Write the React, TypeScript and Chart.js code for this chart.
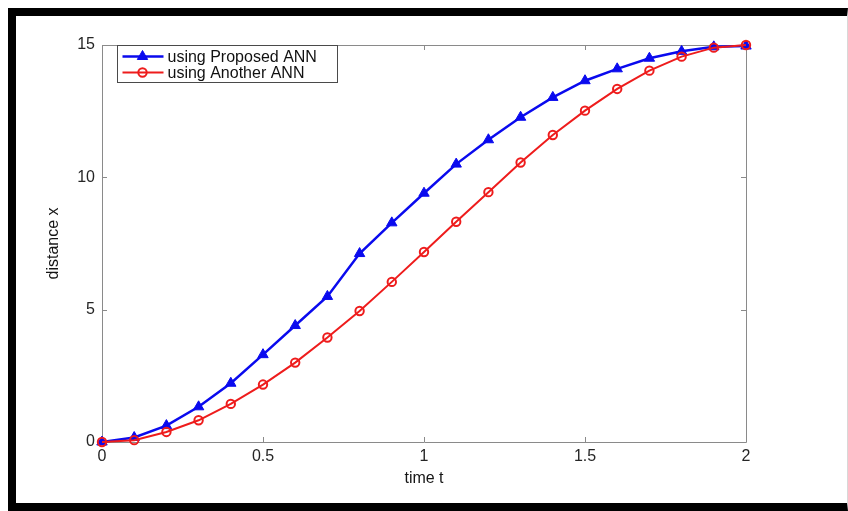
import React, { useEffect, useRef } from "react";
import { Chart, registerables } from "chart.js";

Chart.register(...registerables);

const timeT = [0, 0.1, 0.2, 0.3, 0.4, 0.5, 0.6, 0.7, 0.8, 0.9, 1.0, 1.1, 1.2, 1.3, 1.4, 1.5, 1.6, 1.7, 1.8, 1.9, 2.0];
const proposedANN = [0, 0.17, 0.62, 1.33, 2.22, 3.3, 4.4, 5.5, 7.12, 8.28, 9.4, 10.5, 11.42, 12.27, 13.02, 13.65, 14.1, 14.5, 14.76, 14.93, 14.96];
const anotherANN = [0, 0.07, 0.38, 0.82, 1.44, 2.17, 3.0, 3.95, 4.95, 6.05, 7.18, 8.32, 9.44, 10.56, 11.6, 12.52, 13.34, 14.03, 14.56, 14.9, 15.0];
const xTickValues = [0, 0.5, 1, 1.5, 2];
const yTickValues = [0, 5, 10, 15];
const seriesLabels = ["using Proposed ANN", "using Another ANN"];
const xTitle = "time t";
const yTitle = "distance x";

const BLUE = "#0a0aee";
const RED = "#ee1c1c";
const AXIS = "#8a8a8a";
const FONT = "'Liberation Sans', Arial, Helvetica, sans-serif";

const framePlugin = {
  id: "matlabFrame",
  beforeDatasetsDraw(chart: any) {
    const { ctx, chartArea } = chart;
    const xs = chart.scales.x;
    const ys = chart.scales.y;
    const { left, right, top, bottom } = chartArea;
    ctx.save();
    ctx.strokeStyle = AXIS;
    ctx.lineWidth = 1;
    ctx.beginPath();
    ctx.rect(Math.round(left) + 0.5, Math.round(top) + 0.5, Math.round(right - left), Math.round(bottom - top));
    ctx.stroke();
    const tl = 5;
    ctx.beginPath();
    xTickValues.forEach((v) => {
      const px = Math.round(xs.getPixelForValue(v)) + 0.5;
      ctx.moveTo(px, bottom);
      ctx.lineTo(px, bottom - tl);
      ctx.moveTo(px, top);
      ctx.lineTo(px, top + tl);
    });
    yTickValues.forEach((v) => {
      const py = Math.round(ys.getPixelForValue(v)) + 0.5;
      ctx.moveTo(left, py);
      ctx.lineTo(left + tl, py);
      ctx.moveTo(right, py);
      ctx.lineTo(right - tl, py);
    });
    ctx.stroke();
    ctx.restore();
  },
  afterDraw(chart: any) {
    const { ctx, chartArea } = chart;
    const bx = Math.round(chartArea.left) + 15.5;
    const by = Math.round(chartArea.top) + 0.5;
    const bw = 220;
    const bh = 37;
    ctx.save();
    ctx.fillStyle = "#ffffff";
    ctx.fillRect(bx, by, bw, bh);
    ctx.strokeStyle = "#4a4a4a";
    ctx.lineWidth = 1;
    ctx.strokeRect(bx, by, bw, bh);
    const rows = [by + 11, by + 27];
    chart.data.datasets.forEach((ds: any, i: number) => {
      const y = rows[i];
      ctx.strokeStyle = ds.borderColor;
      ctx.lineWidth = ds.borderWidth;
      ctx.beginPath();
      ctx.moveTo(bx + 5, y);
      ctx.lineTo(bx + 46, y);
      ctx.stroke();
      ctx.fillStyle = ds.pointBackgroundColor;
      ctx.strokeStyle = ds.pointBorderColor;
      ctx.lineWidth = ds.pointBorderWidth;
      ctx.beginPath();
      if (ds.pointStyle === "triangle") {
        const r = ds.pointRadius;
        ctx.moveTo(bx + 25, y - r);
        ctx.lineTo(bx + 25 + r * 0.866, y + r * 0.5);
        ctx.lineTo(bx + 25 - r * 0.866, y + r * 0.5);
        ctx.closePath();
        ctx.fill();
        ctx.stroke();
      } else {
        ctx.arc(bx + 25, y, ds.pointRadius, 0, Math.PI * 2);
        ctx.stroke();
      }
      ctx.fillStyle = "#111111";
      ctx.font = `16px ${FONT}`;
      ctx.textBaseline = "middle";
      ctx.textAlign = "left";
      ctx.fillText(ds.label, bx + 50, y + 1);
    });
    ctx.restore();
  },
};

export default function App() {
  const canvasRef = useRef<HTMLCanvasElement | null>(null);

  useEffect(() => {
    const canvas = canvasRef.current;
    if (!canvas) return;
    const chart = new Chart(canvas, {
      type: "line",
      data: {
        datasets: [
          {
            label: seriesLabels[0],
            data: timeT.map((t, i) => ({ x: t, y: proposedANN[i] })),
            borderColor: BLUE,
            backgroundColor: BLUE,
            borderWidth: 2.5,
            pointStyle: "triangle",
            pointRadius: 6,
            pointBackgroundColor: BLUE,
            pointBorderColor: BLUE,
            pointBorderWidth: 1,
            tension: 0,
            clip: false,
            order: 2,
          } as any,
          {
            label: seriesLabels[1],
            data: timeT.map((t, i) => ({ x: t, y: anotherANN[i] })),
            borderColor: RED,
            backgroundColor: "rgba(0,0,0,0)",
            borderWidth: 2,
            pointStyle: "circle",
            pointRadius: 4.2,
            pointBackgroundColor: "rgba(0,0,0,0)",
            pointBorderColor: RED,
            pointBorderWidth: 2,
            tension: 0,
            clip: false,
            order: 1,
          } as any,
        ],
      },
      options: {
        animation: false,
        responsive: false,
        devicePixelRatio: 1,
        layout: { padding: { left: 28, right: 101, top: 29, bottom: 0 } },
        plugins: {
          legend: { display: false },
          tooltip: { enabled: false },
        },
        scales: {
          x: {
            type: "linear",
            min: 0,
            max: 2,
            afterFit: (s: any) => {
              s.height = 61;
            },
            afterBuildTicks: (s: any) => {
              s.ticks = xTickValues.map((v) => ({ value: v }));
            },
            grid: { display: false, drawTicks: false },
            border: { display: false },
            ticks: {
              padding: 5,
              color: "#262626",
              font: { family: FONT, size: 16 },
              maxRotation: 0,
              callback: (v: any) => String(v),
            },
            title: {
              display: true,
              text: xTitle,
              color: "#151515",
              font: { family: FONT, size: 16 },
              padding: { top: 0, bottom: 15 },
            },
          },
          y: {
            type: "linear",
            min: 0,
            max: 15,
            afterFit: (s: any) => {
              s.width = 58;
            },
            afterBuildTicks: (s: any) => {
              s.ticks = yTickValues.map((v) => ({ value: v }));
            },
            grid: { display: false, drawTicks: false },
            border: { display: false },
            ticks: {
              padding: 7,
              color: "#262626",
              font: { family: FONT, size: 16 },
              callback: (v: any) => String(v),
            },
            title: {
              display: true,
              text: yTitle,
              color: "#151515",
              font: { family: FONT, size: 16 },
              padding: { top: 0, bottom: 0 },
            },
          },
        },
      } as any,
      plugins: [framePlugin],
    });
    return () => chart.destroy();
  }, []);

  return (
    <div
      style={{
        position: "fixed",
        left: 8,
        top: 8,
        width: 840,
        height: 503,
        boxSizing: "border-box",
        borderTop: "8px solid #000",
        borderLeft: "8px solid #000",
        borderBottom: "8px solid #000",
        borderRight: "1px solid #d8d8d8",
        background: "#fff",
      }}
    >
      <canvas ref={canvasRef} width={831} height={487} style={{ display: "block", width: 831, height: 487 }} />
    </div>
  );
}
